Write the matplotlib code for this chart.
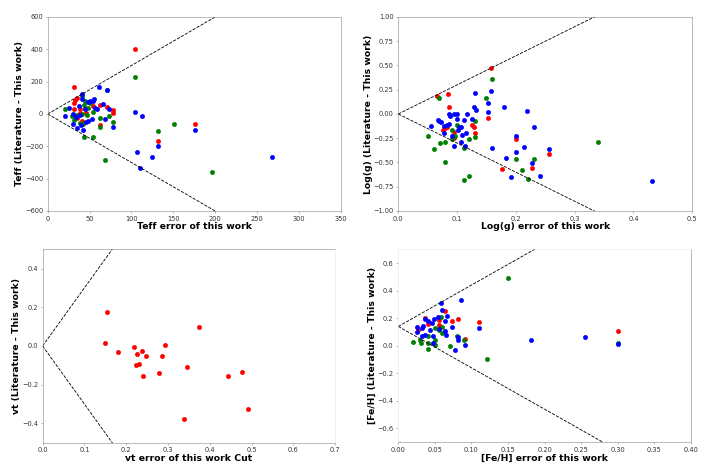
import numpy as np
import matplotlib
matplotlib.use("Agg")
import matplotlib.pyplot as plt

# ---- Teff panel (x: error of this work, y: literature - this work)
teff_red_x = [31.5, 104, 33, 35, 31.5, 38, 32, 39, 35, 41, 46, 54.5, 62, 70.5, 78.5, 78.5, 62, 132, 175.6]
teff_red_y = [164, 400, 86, 96, 69, 28, 30, 7, -26, -42, 7, 50, 55, 44, 24, 7, -69, -165, -65]
teff_green_x = [20.7, 28.7, 31.5, 35, 39, 42, 41, 44.6, 48.6, 50.6, 43.4, 41, 54.5, 62, 62, 70.5,
                73.7, 78.5, 43.4, 54.5, 68.5, 104.7, 132, 151, 196.7, 46.6]
teff_green_y = [28, -13, -38, -7, -55, -63, 110, 81, 34, 69, 55, -1, 13, -22, -83, 147,
                -13, -48, -141, -145, -285, 230, -106, -65, -361, -7]
teff_blue_x = [20.7, 25.5, 30, 30.6, 35, 37.4, 38.2, 40.6, 40.6, 40, 42, 45.4, 47.8, 48.6, 50.6,
               54.5, 55.8, 53.4, 56.6, 58.5, 61, 65.7, 68, 70.5, 73.7, 78.5, 104, 112.7, 106.7,
               125, 132, 110.7, 176, 267.6, 34, 44.6]
teff_blue_y = [-11, 40, 3, -63, -87, 48, -7, 123, 94, -69, -100, -48, -42, 75, 81,
               81, 90, -28, 34, 30, 168, 61, -28, 147, 28, -83, 13, -11, -238,
               -264, -198, -332, -100, -268, -17, 28]

# ---- Log(g) panel
logg_red_x = [0.065, 0.085, 0.087, 0.157, 0.076, 0.080, 0.082, 0.095, 0.094, 0.126, 0.129, 0.131,
              0.153, 0.200, 0.176, 0.227, 0.256]
logg_red_y = [0.187, 0.211, 0.067, 0.475, -0.160, -0.149, -0.132, -0.184, -0.245, -0.115, -0.132,
              -0.201, -0.039, -0.262, -0.568, -0.561, -0.413]
logg_green_x = [0.070, 0.160, 0.150, 0.051, 0.061, 0.071, 0.080, 0.080, 0.091, 0.096, 0.100, 0.111,
                0.121, 0.130, 0.130, 0.111, 0.121, 0.200, 0.210, 0.220, 0.230, 0.340, 0.091]
logg_green_y = [0.166, 0.365, 0.166, -0.228, -0.362, -0.304, -0.492, -0.293, -0.160, -0.228, -0.115,
                -0.355, -0.262, -0.070, -0.242, -0.681, -0.640, -0.468, -0.578, -0.671, -0.461,
                -0.293, -0.262]
logg_blue_x = [0.056, 0.067, 0.069, 0.073, 0.077, 0.078, 0.082, 0.086, 0.088, 0.094, 0.099, 0.086,
               0.091, 0.095, 0.100, 0.101, 0.104, 0.107, 0.106, 0.109, 0.112, 0.113, 0.115, 0.117,
               0.128, 0.126, 0.130, 0.133, 0.153, 0.153, 0.158, 0.159, 0.180, 0.184, 0.191, 0.201,
               0.201, 0.214, 0.219, 0.227, 0.230, 0.241, 0.256, 0.431]
logg_blue_y = [-0.122, -0.057, -0.070, -0.081, -0.201, -0.125, -0.115, -0.002, -0.022, -0.002, 0.005,
               -0.105, -0.228, -0.328, -0.053, -0.160, -0.139, -0.132, -0.286, -0.218, -0.063,
               -0.331, -0.201, 0.005, 0.067, -0.053, 0.218, 0.039, 0.118, 0.022, 0.235, -0.348,
               0.067, -0.458, -0.647, -0.228, -0.389, -0.345, 0.029, -0.509, -0.132, -0.640,
               -0.358, -0.688]

# ---- vt panel
vt_red_x = [0.155, 0.149, 0.180, 0.219, 0.225, 0.238, 0.247, 0.223, 0.231, 0.240, 0.279, 0.286,
            0.292, 0.338, 0.345, 0.374, 0.444, 0.477, 0.491]
vt_red_y = [0.178, 0.014, -0.029, -0.003, -0.041, -0.028, -0.050, -0.100, -0.091, -0.153, -0.138,
            -0.052, 0.005, -0.378, -0.107, 0.097, -0.157, -0.134, -0.324]

# ---- [Fe/H] panel
feh_red_x = [0.036, 0.027, 0.040, 0.055, 0.064, 0.073, 0.081, 0.111, 0.091, 0.300, 0.055]
feh_red_y = [0.198, 0.116, 0.157, 0.188, 0.249, 0.181, 0.196, 0.174, 0.048, 0.109, 0.152]
feh_green_x = [0.020, 0.030, 0.031, 0.040, 0.040, 0.040, 0.050, 0.050, 0.050, 0.059, 0.060, 0.060,
               0.071, 0.080, 0.090, 0.121, 0.150, 0.301, 0.056]
feh_green_y = [0.027, 0.043, 0.019, 0.068, -0.024, 0.019, 0.043, 0.005, 0.128, 0.208, 0.135, 0.092,
               -0.005, 0.068, 0.039, -0.094, 0.490, 0.019, 0.116]
feh_blue_x = [0.025, 0.026, 0.032, 0.034, 0.037, 0.041, 0.033, 0.036, 0.043, 0.046, 0.047, 0.049,
              0.048, 0.054, 0.056, 0.059, 0.060, 0.064, 0.065, 0.067, 0.064, 0.073, 0.077, 0.081,
              0.081, 0.086, 0.091, 0.111, 0.182, 0.255, 0.300]
feh_blue_y = [0.097, 0.135, 0.128, 0.145, 0.193, 0.183, 0.068, 0.080, 0.116, 0.164, 0.068, 0.193,
              0.019, 0.212, 0.121, 0.309, 0.261, 0.176, 0.080, 0.217, 0.104, 0.135, -0.029, 0.043,
              0.063, 0.329, 0.005, 0.126, 0.043, 0.063, 0.015]
feh_offset = 0.14

# figure drawn large and saved at low dpi, like the downscaled original
W = 15.0
fig = plt.figure(figsize=(W, W * 472 / 710))
DPI = 710 / W

def style(ax, faint=()):
    for name, sp in ax.spines.items():
        sp.set_color('#e4e4e4' if name in faint else 'gray')
    ax.tick_params(colors='gray', labelcolor='#333333', labelsize=10)

def cone(ax, xmax, slope=3.0, offset=0.0):
    xx = np.array([0, xmax])
    ax.plot(xx, offset + slope * xx, 'k--', lw=1.3)
    ax.plot(xx, offset - slope * xx, 'k--', lw=1.3)

S = 40

# top left
ax1 = fig.add_axes([0.0672, 0.553, 0.4126, 0.411])
cone(ax1, 350)
ax1.scatter(teff_red_x, teff_red_y, s=S, c='red')
ax1.scatter(teff_green_x, teff_green_y, s=S, c='green')
ax1.scatter(teff_blue_x, teff_blue_y, s=S, c='blue')
ax1.set_xlim(0, 350)
ax1.set_ylim(-600, 600)
ax1.set_xlabel('Teff error of this work', fontsize=14, fontweight='bold', labelpad=1)
ax1.set_ylabel('Teff (Literature - This work)', fontsize=14, fontweight='bold', labelpad=1)
style(ax1)

# top right
ax2 = fig.add_axes([0.561, 0.553, 0.414, 0.411])
cone(ax2, 0.5)
ax2.scatter(logg_red_x, logg_red_y, s=S, c='red')
ax2.scatter(logg_green_x, logg_green_y, s=S, c='green')
ax2.scatter(logg_blue_x, logg_blue_y, s=S, c='blue')
ax2.set_xlim(0, 0.5)
ax2.set_ylim(-1, 1)
ax2.set_xlabel('Log(g) error of this work', fontsize=14, fontweight='bold', labelpad=1)
ax2.set_ylabel('Log(g) (Literature - This work)', fontsize=14, fontweight='bold', labelpad=1)
style(ax2)

# bottom left
ax3 = fig.add_axes([0.060, 0.062, 0.412, 0.410])
cone(ax3, 0.7)
ax3.scatter(vt_red_x, vt_red_y, s=S, c='red')
ax3.set_xlim(0, 0.7)
ax3.set_ylim(-0.5, 0.5)
ax3.set_yticks([-0.4, -0.2, 0.0, 0.2, 0.4])
ax3.set_xlabel('vt error of this work Cut', fontsize=14, fontweight='bold', labelpad=1)
ax3.set_ylabel('vt (Literature - This work)', fontsize=14, fontweight='bold', labelpad=1)
style(ax3, faint=('right',))

# bottom right
ax4 = fig.add_axes([0.561, 0.063, 0.412, 0.409])
cone(ax4, 0.4, offset=feh_offset)
ax4.scatter(feh_red_x, feh_red_y, s=S, c='red')
ax4.scatter(feh_green_x, feh_green_y, s=S, c='green')
ax4.scatter(feh_blue_x, feh_blue_y, s=S, c='blue')
ax4.set_xlim(0, 0.4)
ax4.set_ylim(-0.7, 0.7)
ax4.set_yticks([-0.6, -0.4, -0.2, 0.0, 0.2, 0.4, 0.6])
ax4.set_xlabel('[Fe/H] error of this work', fontsize=14, fontweight='bold', labelpad=1)
ax4.set_ylabel('[Fe/H] (Literature - This work)', fontsize=14, fontweight='bold', labelpad=1)
style(ax4, faint=('top', 'left'))

fig.savefig('out.png', dpi=DPI)
